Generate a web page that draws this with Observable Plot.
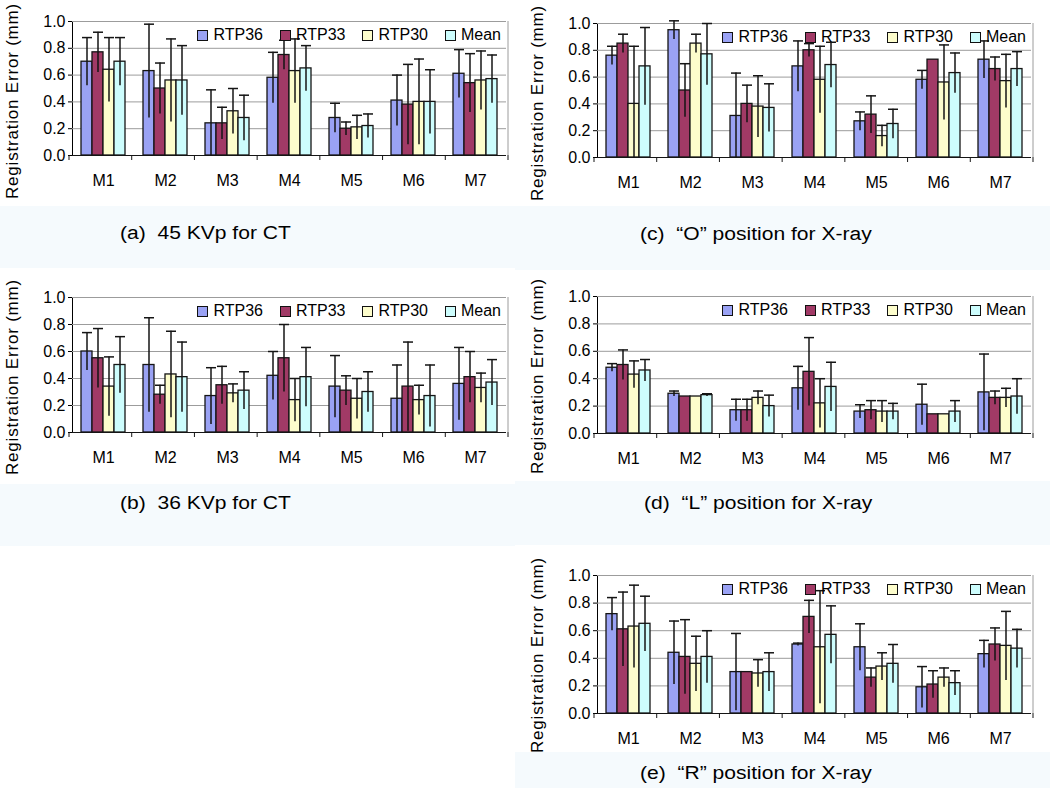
<!DOCTYPE html>
<html>
<head>
<meta charset="utf-8">
<script src="https://cdn.jsdelivr.net/npm/d3@7"></script>
<script src="https://cdn.jsdelivr.net/npm/@observablehq/plot@0.6"></script>
<style>
  html, body { margin: 0; padding: 0; background: #fff; }
  #root { position: relative; width: 1050px; height: 788px; overflow: hidden; font-family: "Liberation Sans", Arial, sans-serif; color: #000; }
  .band { position: absolute; background: #f5fafd; }
  .panel { position: absolute; width: 525px; }
  .panel svg { position: absolute; left: 0; }
  .ytitle { position: absolute; white-space: nowrap; font-size: 17px; letter-spacing: 0.8px; transform: translate(-50%, -50%) rotate(-90deg); }
  .legend { position: absolute; display: flex; align-items: center; font-size: 16px; line-height: 18px; white-space: nowrap; }
  .legend .item { display: flex; align-items: center; margin-left: 17px; }
  .legend .sw { width: 9px; height: 9px; border: 1px solid #111; margin-right: 5px; }
  .caption { position: absolute; font-size: 18px; white-space: pre; transform-origin: left center; transform: scaleX(1.17); line-height: 22px; }
</style>
</head>
<body>
<div id="root"></div>
<script>
// ---------- data ----------
const categories = ["M1", "M2", "M3", "M4", "M5", "M6", "M7"];
const series = ["RTP36", "RTP33", "RTP30", "Mean"];
const yTicks = [0, 0.2, 0.4, 0.6, 0.8, 1.0];
const yTitle = "Registration Error (mm)";

// (a) 45 KVp for CT — rows: categories, columns: series
const ct45Mean = [
  [0.70, 0.77, 0.64, 0.70],
  [0.63, 0.50, 0.56, 0.56],
  [0.24, 0.24, 0.33, 0.28],
  [0.58, 0.75, 0.63, 0.65],
  [0.28, 0.20, 0.21, 0.22],
  [0.41, 0.38, 0.40, 0.40],
  [0.61, 0.54, 0.56, 0.57]
];
const ct45Sd = [
  [0.18, 0.15, 0.24, 0.18],
  [0.35, 0.19, 0.31, 0.26],
  [0.25, 0.12, 0.17, 0.17],
  [0.19, 0.11, 0.24, 0.17],
  [0.11, 0.05, 0.09, 0.09],
  [0.19, 0.30, 0.32, 0.24],
  [0.18, 0.22, 0.22, 0.18]
];
// (b) 36 KVp for CT
const ct36Mean = [
  [0.60, 0.55, 0.34, 0.50],
  [0.50, 0.28, 0.43, 0.41],
  [0.27, 0.35, 0.29, 0.31],
  [0.42, 0.55, 0.24, 0.41],
  [0.34, 0.31, 0.25, 0.30],
  [0.25, 0.34, 0.24, 0.27],
  [0.36, 0.41, 0.33, 0.37]
];
const ct36Sd = [
  [0.14, 0.22, 0.22, 0.21],
  [0.35, 0.07, 0.32, 0.26],
  [0.21, 0.14, 0.07, 0.14],
  [0.18, 0.25, 0.16, 0.22],
  [0.23, 0.11, 0.15, 0.15],
  [0.25, 0.33, 0.11, 0.23],
  [0.27, 0.19, 0.11, 0.17]
];
// (c) "O" position for X-ray
const xrayOMean = [
  [0.76, 0.85, 0.40, 0.68],
  [0.95, 0.50, 0.85, 0.77],
  [0.31, 0.40, 0.38, 0.37],
  [0.68, 0.80, 0.58, 0.69],
  [0.27, 0.32, 0.16, 0.25],
  [0.58, 0.73, 0.56, 0.63],
  [0.73, 0.66, 0.57, 0.66]
];
const xrayOSd = [
  [0.07, 0.07, 0.43, 0.29],
  [0.07, 0.20, 0.07, 0.23],
  [0.32, 0.14, 0.23, 0.18],
  [0.19, 0.05, 0.25, 0.17],
  [0.07, 0.14, 0.08, 0.11],
  [0.07, 0.00, 0.28, 0.15],
  [0.14, 0.09, 0.20, 0.13]
];
// (d) "L" position for X-ray
const xrayLMean = [
  [0.48, 0.50, 0.43, 0.46],
  [0.29, 0.27, 0.27, 0.28],
  [0.17, 0.17, 0.26, 0.20],
  [0.33, 0.45, 0.22, 0.34],
  [0.16, 0.17, 0.16, 0.16],
  [0.21, 0.14, 0.14, 0.16],
  [0.30, 0.26, 0.26, 0.27]
];
const xrayLSd = [
  [0.03, 0.11, 0.10, 0.08],
  [0.02, 0.00, 0.00, 0.01],
  [0.08, 0.08, 0.05, 0.08],
  [0.16, 0.25, 0.18, 0.18],
  [0.05, 0.07, 0.08, 0.06],
  [0.15, 0.00, 0.00, 0.08],
  [0.28, 0.05, 0.07, 0.13]
];
// (e) "R" position for X-ray
const xrayRMean = [
  [0.72, 0.61, 0.63, 0.65],
  [0.44, 0.41, 0.36, 0.41],
  [0.30, 0.30, 0.29, 0.30],
  [0.50, 0.70, 0.48, 0.57],
  [0.48, 0.26, 0.34, 0.36],
  [0.19, 0.21, 0.26, 0.22],
  [0.43, 0.50, 0.49, 0.47]
];
const xrayRSd = [
  [0.12, 0.27, 0.30, 0.20],
  [0.23, 0.27, 0.20, 0.19],
  [0.28, 0.00, 0.10, 0.14],
  [0.01, 0.12, 0.41, 0.21],
  [0.17, 0.07, 0.10, 0.14],
  [0.15, 0.10, 0.07, 0.09],
  [0.10, 0.12, 0.25, 0.14]
];
const captions = [
  "(a)  45 KVp for CT",
  "(b)  36 KVp for CT",
  "(c)  \u201CO\u201D position for X-ray",
  "(d)  \u201CL\u201D position for X-ray",
  "(e)  \u201CR\u201D position for X-ray"
];

// ---------- styles / layout ----------
const seriesColors = ["#9aa2f4", "#a13a66", "#fdfdcc", "#cdfdfd"];
const panels = [
  {mean: ct45Mean,  sd: ct45Sd,  left: 0,   frameTop: 21,  frameBottom: 155, caption: captions[0], capX: 120, capY: 233},
  {mean: ct36Mean,  sd: ct36Sd,  left: 0,   frameTop: 297, frameBottom: 432, caption: captions[1], capX: 120, capY: 503},
  {mean: xrayOMean, sd: xrayOSd, left: 525, frameTop: 23,  frameBottom: 157, caption: captions[2], capX: 640, capY: 234},
  {mean: xrayLMean, sd: xrayLSd, left: 525, frameTop: 296, frameBottom: 433, caption: captions[3], capX: 644, capY: 503},
  {mean: xrayRMean, sd: xrayRSd, left: 525, frameTop: 575, frameBottom: 713, caption: captions[4], capX: 640, capY: 773}
];
const bands = [
  [0, 206, 515, 62], [515, 206, 535, 64],
  [0, 484, 515, 62], [515, 481, 535, 64],
  [515, 752, 535, 36]
];

const root = document.getElementById("root");
for (const [x, y, w, h] of bands) {
  const b = document.createElement("div");
  b.className = "band";
  Object.assign(b.style, {left: x + "px", top: y + "px", width: w + "px", height: h + "px"});
  root.appendChild(b);
}

const MT = 21, MB = 45, ML = 69, MR = 17;

function buildPanel(p) {
  const rows = [];
  categories.forEach((c, i) => series.forEach((s, j) => {
    const m = p.mean[i][j], sd = p.sd[i][j];
    rows.push({cat: c, ser: s, mean: m, sd: sd, lo: Math.max(0, m - sd), hi: m + sd});
  }));
  const plotH = p.frameBottom - p.frameTop;
  const svg = Plot.plot({
    width: 525,
    height: plotH + MT + MB,
    marginTop: MT, marginBottom: MB, marginLeft: ML, marginRight: MR,
    style: {fontFamily: "'Liberation Sans', Arial, sans-serif", fontSize: "16px", color: "#000", background: "transparent", overflow: "visible"},
    facet: {data: rows, x: "cat"},
    fx: {domain: categories, padding: 0, label: null, axis: "bottom", tickSize: 0, tickPadding: 19},
    x: {domain: series, paddingInner: 0, paddingOuter: 0.7, axis: null},
    y: {domain: [0, 1], ticks: yTicks, tickFormat: ".1f", tickSize: 4, tickPadding: 3, label: null, line: true},
    color: {domain: series, range: seriesColors},
    marks: [
      Plot.ruleY(yTicks.slice(1), {stroke: "#9c9c9c", strokeWidth: 1}),
      Plot.barY(rows, {x: "ser", y: "mean", fill: "ser", stroke: "#151515", strokeWidth: 1.3}),
      Plot.ruleX(rows, {x: "ser", y1: "lo", y2: "hi", stroke: "#151515", strokeWidth: 1.5}),
      Plot.tickY(rows, {filter: d => d.sd > 0, x: "ser", y: "hi", stroke: "#151515", strokeWidth: 1.5, insetLeft: 1}),
      Plot.ruleY([0], {stroke: "#151515", strokeWidth: 1.2})
    ]
  });

  // decorations derived from the plot's scales: category separator ticks and right border
  const ys = svg.scale("y"), fxs = svg.scale("fx");
  const y = d3.scaleLinear(ys.domain, ys.range);
  const [fx0, fx1] = fxs.range;
  const step = (fx1 - fx0) / categories.length;
  const g = d3.select(svg).append("g").attr("stroke", "#151515");
  d3.range(categories.length + 1).forEach(i => {
    const bx = fx0 + i * step;
    g.append("line").attr("x1", bx).attr("x2", bx).attr("y1", y(0)).attr("y2", y(0) + 5);
  });
  g.append("line").attr("x1", fx1).attr("x2", fx1).attr("y1", y(1)).attr("y2", y(0)).attr("stroke", "#9c9c9c");

  const panel = document.createElement("div");
  panel.className = "panel";
  panel.style.left = p.left + "px";
  panel.style.top = (p.frameTop - MT) + "px";
  panel.style.height = (plotH + MT + MB) + "px";
  svg.style.top = "0px";
  panel.appendChild(svg);

  const yt = document.createElement("div");
  yt.className = "ytitle";
  yt.textContent = yTitle;
  yt.style.left = "13px";
  yt.style.top = (MT + 80) + "px";
  panel.appendChild(yt);

  const lg = document.createElement("div");
  lg.className = "legend";
  lg.style.right = "24px";
  lg.style.top = (MT + 5) + "px";
  series.forEach((s, j) => {
    const it = document.createElement("div");
    it.className = "item";
    const sw = document.createElement("div");
    sw.className = "sw";
    sw.style.background = seriesColors[j];
    const tx = document.createElement("span");
    tx.textContent = s;
    it.appendChild(sw); it.appendChild(tx);
    lg.appendChild(it);
  });
  panel.appendChild(lg);
  root.appendChild(panel);

  const cap = document.createElement("div");
  cap.className = "caption";
  cap.textContent = p.caption;
  cap.style.left = p.capX + "px";
  cap.style.top = (p.capY - 11) + "px";
  root.appendChild(cap);
}

panels.forEach(buildPanel);
</script>
</body>
</html>
